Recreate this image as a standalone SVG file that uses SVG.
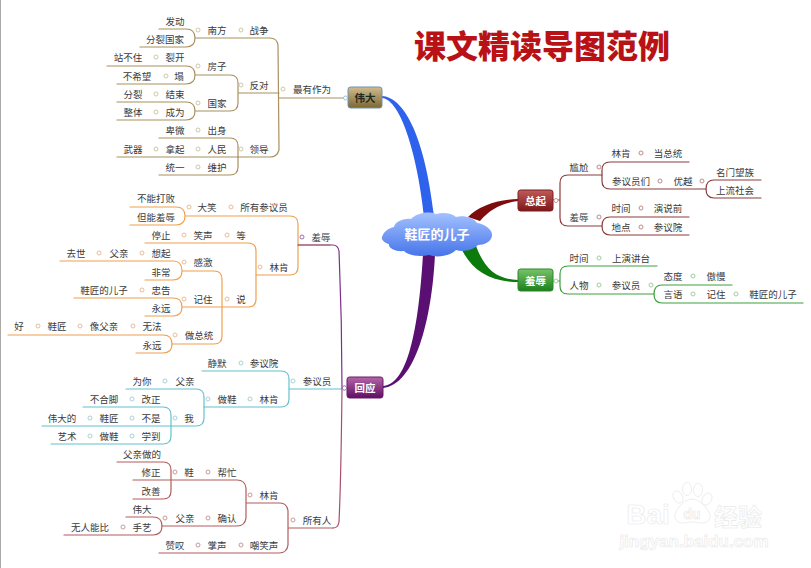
<svg xmlns="http://www.w3.org/2000/svg" width="811" height="568" viewBox="0 0 811 568">
<style>
text{font-family:"Noto Sans CJK SC","Liberation Sans",sans-serif;font-size:9.5px;fill:#3a3a3a;text-anchor:middle;dominant-baseline:central}
.b{fill:none;stroke-width:1.2;stroke-linecap:round}
.tan{stroke:#a8905f}.org{stroke:#f0a04f}.tea{stroke:#62c2cf}.red{stroke:#b35c5c}.drd{stroke:#8c3c3c}.grn{stroke:#3f9f3f}.pur{stroke:#7c2f8c}.pnk{stroke:#a8506a}
circle{fill:#fff;stroke-width:1}
.ct{stroke:#cfc8a8}.co{stroke:#eabd9c}.cc{stroke:#a9d2da}.cr{stroke:#c79a9a}.cd{stroke:#c08a8a}.cg{stroke:#9fcf9f}.cp{stroke:#9a6fb0}
.box{stroke-width:1}
.bt{font-size:10.5px;font-weight:700;fill:#fff}
.wm{fill:#fff;stroke:#e8e8e8;stroke-width:.6;font-family:"Liberation Sans",sans-serif;font-weight:700}
</style>
<defs>
<linearGradient id="gGold" x1="0" y1="0" x2="0" y2="1"><stop offset="0" stop-color="#cfbb8e"/><stop offset="1" stop-color="#7d6731"/></linearGradient>
<linearGradient id="gRed" x1="0" y1="0" x2="0" y2="1"><stop offset="0" stop-color="#c25a5a"/><stop offset="1" stop-color="#7d1616"/></linearGradient>
<linearGradient id="gGrn" x1="0" y1="0" x2="0" y2="1"><stop offset="0" stop-color="#78c468"/><stop offset="1" stop-color="#1c7f1c"/></linearGradient>
<linearGradient id="gPur" x1="0" y1="0" x2="0" y2="1"><stop offset="0" stop-color="#b565a8"/><stop offset="1" stop-color="#5f0f62"/></linearGradient>
<linearGradient id="gCloud" x1="0" y1="0" x2="0" y2="1"><stop offset="0" stop-color="#a4c2ff"/><stop offset="1" stop-color="#4674ea"/></linearGradient>
</defs>
<rect x="0" y="0" width="811" height="568" fill="#fff"/>
<rect x="0" y="0" width="1" height="568" fill="#aaa"/>

<g id="connectors">
<path fill="#2f62ec" d="M382,96C402,97 424,130 434,216L424,216C418,160 402,100 382,98Z"/>
<path fill="#7f0c0c" d="M518,199C495,200 478,207 468,217L480,221C490,209 502,203 518,201Z"/>
<path fill="#0d7a0d" d="M518,280C497,279 485,270 476,246L462,250C472,270 490,282 518,282Z"/>
<path fill="#5a0f72" d="M383,386C405,385 418,340 423,254L435,254C432,320 415,385 383,388Z"/>

<g class="b tan">
<path d="M159,29H186Q195,29 195,38Q195,47 186,47H140M195,38H270Q277,38 278,45L279,150Q277,157 270,157H238"/>
<path d="M279,98H345"/>
<path d="M107,66H186Q195,66 195,75Q195,84 186,84H117M195,75H230Q238,75 238,83V103Q238,111 230,111H195M117,102H186Q195,102 195,111Q195,120 186,120H117M238,93H279"/>
<path d="M159,138H230Q238,138 238,146V167Q238,175 230,175H159M117,157H238"/>
</g>

<g class="b org">
<path d="M130,207H176Q185,207 185,216Q185,225 176,225H130M185,216H290Q298,216 298,224V267Q298,275 290,275H256M298,245H330"/>
<path d="M145,243H248Q256,243 256,251V299Q256,307 248,307H182"/>
<path d="M60,261H173Q182,261 182,271Q182,280 173,280H145M182,271H214Q222,271 222,279V336Q222,344 214,344H172"/>
<path d="M74,298H173Q182,298 182,307Q182,316 173,316H145"/>
<path d="M8,335H163Q172,335 172,344Q172,353 163,353H136"/>
</g>

<g class="b tea">
<path d="M202,371H281Q289,371 289,379V399Q289,407 281,407H204M289,389H342"/>
<path d="M126,389H196Q204,389 204,397V418Q204,426 196,426H171"/>
<path d="M83,407H163Q171,407 171,415V436Q171,444 163,444H51M42,426H171"/>
</g>

<g class="b red">
<path d="M117,462H163Q171,462 171,470V491Q171,499 163,499H133M133,480H237Q245,480 246,488V518Q245,526 237,526H162M246,503H280Q287,503 288,511V545Q287,553 279,553H159M288,528H333"/>
<path d="M126,517H153Q162,517 162,526Q162,535 153,535H64"/>
</g>

<path class="b pur" d="M298,245H333Q338,245 339,251Q342,320 342,388"/>
<path class="b pnk" d="M342,388Q341,480 339,522Q338,528 333,528"/>

<g class="b drd">
<path d="M560,200V183Q560,175 568,175H602M560,200V218Q560,226 568,226H602M553,200H560"/>
<path d="M689,162H610Q602,162 602,170V181Q602,189 610,189H706"/>
<path d="M761,180H714Q706,180 706,189Q706,198 714,198H761"/>
<path d="M689,217H610Q602,217 602,226Q602,235 610,235H689"/>
</g>

<g class="b grn">
<path d="M657,266H568Q560,266 560,274V286Q560,294 568,294H654M553,281H560"/>
<path d="M732,285H662Q654,285 654,294Q654,303 662,303H803"/>
</g>
</g>

<g id="central"><path fill="url(#gCloud)" d="M382,237C384,231 389,228 394,227C395,222 403,218 411,219C417,213 428,211 436,214C443,212 452,213 456,217C464,215 474,218 477,223C485,224 493,230 492,236C491,242 484,245 478,245C472,251 462,252 456,250C450,256 437,258 429,255C421,257 409,256 404,251C396,252 388,248 389,244C385,243 381,240 382,237Z"/><text x="437" y="233" style="font-size:13px;font-weight:700;fill:#fff">鞋匠的儿子</text></g>
<g id="title"><text x="542" y="44" style="font-size:32px;font-weight:900;fill:#b81216">课文精读导图范例</text></g>

<g id="box-weida"><rect class="box" x="348" y="87" width="34" height="21" rx="2.5" fill="url(#gGold)" stroke="#6f92b5"/><text class="bt" x="365" y="97.5" style="fill:#1f2a20">伟大</text><circle cx="345.5" cy="98" r="2" stroke="#9cc3e0"/></g>
<g id="box-zongqi"><rect class="box" x="518" y="190" width="35" height="21" rx="2.5" fill="url(#gRed)" stroke="#7a2020"/><text class="bt" x="535.5" y="200.5">总起</text><circle cx="556" cy="200.5" r="2" stroke="#c79a9a"/></g>
<g id="box-xiuru"><rect class="box" x="518" y="269" width="35" height="22" rx="2.5" fill="url(#gGrn)" stroke="#2c862c"/><text class="bt" x="535.5" y="280">羞辱</text><circle cx="556" cy="281" r="2" stroke="#9fcf9f"/></g>
<g id="box-huiying"><rect class="box" x="347" y="377" width="36" height="21" rx="2.5" fill="url(#gPur)" stroke="#6b1b6b"/><text class="bt" x="365" y="387.5">回应</text><circle cx="344.5" cy="388" r="2.2" stroke="#9a6fb0"/></g>

<g id="n-tan">
<g id="n1"><text x="175" y="21">发动</text></g>
<g id="n2"><text x="165" y="39">分裂国家</text></g>
<g id="n3"><circle class="ct" cx="198" cy="30" r="2"/><text x="217" y="30">南方</text></g>
<g id="n4"><circle class="ct" cx="241" cy="30" r="2"/><text x="259" y="30">战争</text></g>
<g id="n5"><text x="128" y="57">站不住</text></g>
<g id="n6"><circle class="ct" cx="156" cy="57" r="2"/><text x="175" y="57">裂开</text></g>
<g id="n7"><circle class="ct" cx="198" cy="66" r="2"/><text x="217" y="66">房子</text></g>
<g id="n8"><text x="137" y="76">不希望</text></g>
<g id="n9"><circle class="ct" cx="166" cy="76" r="2"/><text x="179" y="76">塌</text></g>
<g id="n10"><text x="133" y="94">分裂</text></g>
<g id="n11"><circle class="ct" cx="156" cy="94" r="2"/><text x="175" y="94">结束</text></g>
<g id="n12"><circle class="ct" cx="198" cy="103" r="2"/><text x="217" y="103">国家</text></g>
<g id="n13"><text x="133" y="112">整体</text></g>
<g id="n14"><circle class="ct" cx="156" cy="112" r="2"/><text x="175" y="112">成为</text></g>
<g id="n15"><text x="175" y="130">卑微</text></g>
<g id="n16"><circle class="ct" cx="198" cy="130" r="2"/><text x="217" y="130">出身</text></g>
<g id="n17"><text x="133" y="149">武器</text></g>
<g id="n18"><circle class="ct" cx="156" cy="149" r="2"/><text x="175" y="149">拿起</text></g>
<g id="n19"><circle class="ct" cx="198" cy="149" r="2"/><text x="217" y="149">人民</text></g>
<g id="n20"><text x="175" y="167">统一</text></g>
<g id="n21"><circle class="ct" cx="198" cy="167" r="2"/><text x="217" y="167">维护</text></g>
<g id="n22"><circle class="ct" cx="241" cy="149" r="2"/><text x="259" y="149">领导</text></g>
<g id="n23"><circle class="ct" cx="241" cy="85" r="2"/><text x="259" y="85">反对</text></g>
<g id="n24"><circle class="ct" cx="283" cy="89" r="2"/><text x="312" y="89">最有作为</text></g>
</g>

<g id="n-org">
<g id="n30"><text x="156" y="198">不能打败</text></g>
<g id="n31"><text x="156" y="217">但能羞辱</text></g>
<g id="n32"><circle class="co" cx="189" cy="207" r="2"/><text x="207" y="207">大笑</text></g>
<g id="n33"><circle class="co" cx="231" cy="207" r="2"/><text x="264" y="207">所有参议员</text></g>
<g id="n34"><circle class="cp" cx="302" cy="237" r="2"/><text x="321" y="237">羞辱</text></g>
<g id="n35"><circle class="co" cx="260" cy="267" r="2"/><text x="279" y="267">林肯</text></g>
<g id="n36"><text x="161" y="235">停止</text></g>
<g id="n37"><circle class="co" cx="184" cy="235" r="2"/><text x="203" y="235">笑声</text></g>
<g id="n38"><circle class="co" cx="227" cy="235" r="2"/><text x="241" y="235">等</text></g>
<g id="n39"><text x="76" y="253">去世</text></g>
<g id="n40"><circle class="co" cx="99" cy="253" r="2"/><text x="119" y="253">父亲</text></g>
<g id="n41"><circle class="co" cx="142" cy="253" r="2"/><text x="161" y="253">想起</text></g>
<g id="n42"><text x="161" y="272">非常</text></g>
<g id="n43"><circle class="co" cx="184" cy="262" r="2"/><text x="203" y="262">感激</text></g>
<g id="n44"><text x="104" y="290">鞋匠的儿子</text></g>
<g id="n45"><circle class="co" cx="142" cy="290" r="2"/><text x="161" y="290">忠告</text></g>
<g id="n46"><text x="161" y="308">永远</text></g>
<g id="n47"><circle class="co" cx="184" cy="299" r="2"/><text x="203" y="299">记住</text></g>
<g id="n48"><circle class="co" cx="227" cy="299" r="2"/><text x="241" y="299">说</text></g>
<g id="n49"><text x="19" y="326">好</text></g>
<g id="n50"><circle class="co" cx="38" cy="326" r="2"/><text x="57" y="326">鞋匠</text></g>
<g id="n51"><circle class="co" cx="80" cy="326" r="2"/><text x="104" y="326">像父亲</text></g>
<g id="n52"><circle class="co" cx="133" cy="326" r="2"/><text x="152" y="326">无法</text></g>
<g id="n53"><text x="152" y="345">永远</text></g>
<g id="n54"><circle class="co" cx="175" cy="335" r="2"/><text x="199" y="335">做总统</text></g>
</g>

<g id="n-tea">
<g id="n60"><text x="217" y="363">静默</text></g>
<g id="n61"><circle class="cc" cx="241" cy="363" r="2"/><text x="264" y="363">参议院</text></g>
<g id="n62"><circle class="cc" cx="293" cy="381" r="2"/><text x="317" y="381">参议员</text></g>
<g id="n63"><text x="142" y="381">为你</text></g>
<g id="n64"><circle class="cc" cx="165" cy="381" r="2"/><text x="185" y="381">父亲</text></g>
<g id="n65"><circle class="cc" cx="208" cy="399" r="2"/><text x="227" y="399">做鞋</text></g>
<g id="n66"><circle class="cc" cx="250" cy="399" r="2"/><text x="269" y="399">林肯</text></g>
<g id="n67"><text x="104" y="399">不合脚</text></g>
<g id="n68"><circle class="cc" cx="132" cy="399" r="2"/><text x="151" y="399">改正</text></g>
<g id="n69"><text x="62" y="418">伟大的</text></g>
<g id="n70"><circle class="cc" cx="90" cy="418" r="2"/><text x="109" y="418">鞋匠</text></g>
<g id="n71"><circle class="cc" cx="132" cy="418" r="2"/><text x="151" y="418">不是</text></g>
<g id="n72"><circle class="cc" cx="175" cy="418" r="2"/><text x="189" y="418">我</text></g>
<g id="n73"><text x="67" y="436">艺术</text></g>
<g id="n74"><circle class="cc" cx="90" cy="436" r="2"/><text x="109" y="436">做鞋</text></g>
<g id="n75"><circle class="cc" cx="132" cy="436" r="2"/><text x="151" y="436">学到</text></g>
</g>

<g id="n-red">
<g id="n80"><text x="142" y="454">父亲做的</text></g>
<g id="n81"><text x="151" y="472">修正</text></g>
<g id="n82"><text x="151" y="491">改善</text></g>
<g id="n83"><circle class="cr" cx="175" cy="472" r="2"/><text x="189" y="472">鞋</text></g>
<g id="n84"><circle class="cr" cx="208" cy="472" r="2"/><text x="227" y="472">帮忙</text></g>
<g id="n85"><text x="142" y="509">伟大</text></g>
<g id="n86"><text x="90" y="527">无人能比</text></g>
<g id="n87"><circle class="cr" cx="123" cy="527" r="2"/><text x="142" y="527">手艺</text></g>
<g id="n88"><circle class="cr" cx="165" cy="518" r="2"/><text x="185" y="518">父亲</text></g>
<g id="n89"><circle class="cr" cx="208" cy="518" r="2"/><text x="227" y="518">确认</text></g>
<g id="n90"><circle class="cr" cx="250" cy="495" r="2"/><text x="269" y="495">林肯</text></g>
<g id="n91"><circle class="cr" cx="293" cy="520" r="2"/><text x="317" y="520">所有人</text></g>
<g id="n92"><text x="175" y="545">赞叹</text></g>
<g id="n93"><circle class="cr" cx="198" cy="545" r="2"/><text x="217" y="545">掌声</text></g>
<g id="n94"><circle class="cr" cx="241" cy="545" r="2"/><text x="264" y="545">嘲笑声</text></g>
</g>

<g id="n-right">
<g id="n100"><circle class="cd" cx="599" cy="167" r="2"/><text x="579" y="167">尴尬</text></g>
<g id="n101"><text x="621" y="153">林肯</text></g>
<g id="n102"><circle class="cd" cx="641" cy="153" r="2"/><text x="668" y="153">当总统</text></g>
<g id="n103"><text x="631" y="181">参议员们</text></g>
<g id="n104"><circle class="cd" cx="660" cy="181" r="2"/><text x="683" y="181">优越</text></g>
<g id="n105"><circle class="cd" cx="702" cy="181" r="2"/><text x="735" y="172">名门望族</text></g>
<g id="n106"><text x="735" y="190">上流社会</text></g>
<g id="n107"><circle class="cd" cx="599" cy="217" r="2"/><text x="579" y="217">羞辱</text></g>
<g id="n108"><text x="621" y="208">时间</text></g>
<g id="n109"><circle class="cd" cx="641" cy="208" r="2"/><text x="668" y="208">演说前</text></g>
<g id="n110"><text x="621" y="227">地点</text></g>
<g id="n111"><circle class="cd" cx="641" cy="227" r="2"/><text x="668" y="227">参议院</text></g>
<g id="n112"><circle class="cg" cx="599" cy="258" r="2"/><text x="579" y="258">时间</text></g>
<g id="n113"><text x="631" y="258">上演讲台</text></g>
<g id="n114"><circle class="cg" cx="599" cy="285" r="2"/><text x="579" y="285">人物</text></g>
<g id="n115"><circle class="cg" cx="651" cy="285" r="2"/><text x="626" y="285">参议员</text></g>
<g id="n116"><text x="673" y="276">态度</text></g>
<g id="n117"><circle class="cg" cx="693" cy="276" r="2"/><text x="716" y="276">傲慢</text></g>
<g id="n118"><text x="673" y="294">言语</text></g>
<g id="n119"><circle class="cg" cx="693" cy="294" r="2"/><text x="716" y="294">记住</text></g>
<g id="n120"><circle class="cg" cx="736" cy="294" r="2"/><text x="773" y="294">鞋匠的儿子</text></g>
</g>

<g id="watermark">
<g fill="#fff" stroke="#e8e8e8" stroke-width=".8"><ellipse cx="678" cy="497" rx="4.5" ry="6.5" transform="rotate(-30 678 497)"/><ellipse cx="687" cy="489" rx="4.5" ry="6.5"/><ellipse cx="698" cy="490" rx="4.5" ry="6.5"/><ellipse cx="707" cy="499" rx="4.5" ry="6.5" transform="rotate(30 707 499)"/><path d="M692,499C700,499 712,512 710,518C707,526 698,522 692,522C686,522 678,526 675,518C673,512 684,499 692,499Z"/></g>
<text class="wm" x="648" y="514.5" style="font-size:28px">Bai</text>
<text class="wm" x="692" y="514" style="font-size:14px">du</text>
<text class="wm" x="738" y="515" style="font-size:24px;font-family:'Noto Sans CJK SC',sans-serif">经验</text>
<text class="wm" x="694" y="541" style="font-size:17px">jingyan.baidu.com</text>
</g>
</svg>
